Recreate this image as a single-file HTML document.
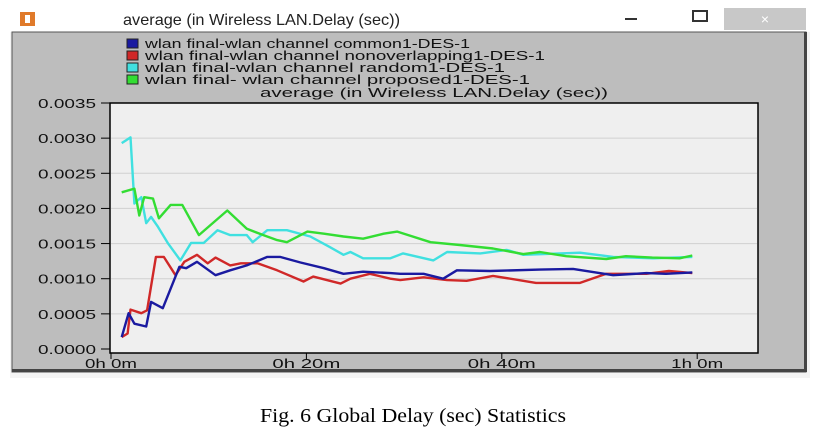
<!DOCTYPE html>
<html><head><meta charset="utf-8"><style>
html,body{margin:0;padding:0;background:#fff;width:819px;height:435px;overflow:hidden}
svg{display:block;font-family:"Liberation Sans",sans-serif}
</style></head><body>
<svg id="chart" width="819" height="435" viewBox="0 0 819 435">
<rect x="10" y="6" width="800" height="372" fill="#f4f4f4"/>
<rect x="10" y="6" width="800" height="26" fill="#ffffff"/>
<rect x="20" y="12" width="15" height="14" fill="#e07a2a"/>
<rect x="25" y="15" width="5" height="8" fill="#fff"/>
<text x="123" y="25" font-size="16" textLength="277" lengthAdjust="spacingAndGlyphs" fill="#222">average (in Wireless LAN.Delay (sec))</text>
<rect x="625" y="18" width="12" height="2" fill="#333"/>
<rect x="693" y="11" width="14" height="10" fill="none" stroke="#333" stroke-width="2"/>
<rect x="724" y="8" width="82" height="22" fill="#c8c8c8"/>
<text x="765" y="24" font-size="14" fill="#fff" text-anchor="middle">×</text>
<rect x="12" y="32" width="794" height="340" fill="#bdbdbd" stroke="#555" stroke-width="1"/>
<rect x="804" y="32" width="3" height="340" fill="#444"/>
<rect x="12" y="369" width="794" height="3" fill="#444"/>
<g id="legend" font-size="13" fill="#111"></g>
<text x="434" y="97" font-size="13" text-anchor="middle" textLength="348" lengthAdjust="spacingAndGlyphs" fill="#111">average (in Wireless LAN.Delay (sec))</text>
<rect x="110" y="103" width="648" height="250" fill="#efefef" stroke="#000" stroke-width="1.5"/>
<g id="grid"></g><g id="yaxis" font-size="13" fill="#111"></g><g id="xaxis" font-size="13" fill="#111"></g><g id="series"></g>
<text x="413" y="422" font-family="Liberation Serif,serif" font-size="20" text-anchor="middle" textLength="306" lengthAdjust="spacingAndGlyphs" fill="#000">Fig. 6 Global Delay (sec) Statistics</text>
</svg>
<script>
const yTicks=[0,0.0005,0.0010,0.0015,0.0020,0.0025,0.0030,0.0035];
const yTickLabels=["0.0000","0.0005","0.0010","0.0015","0.0020","0.0025","0.0030","0.0035"];
const xTicks=[0,20,40,60];
const xTickLabels=["0h 0m","0h 20m","0h 40m","1h 0m"];
const seriesNames=["wlan final-wlan channel common1-DES-1","wlan final-wlan channel nonoverlapping1-DES-1","wlan final-wlan channel random1-DES-1","wlan final- wlan channel proposed1-DES-1"];
const seriesColors=["#1a1aa0","#d02828","#40e0e0","#33dd33"];
const commonMin=[1.1,1.8,2.4,3.6,4.1,5.3,7.0,7.7,8.8,10.7,12.2,13.9,16.0,17.3,19.4,21.8,23.8,25.8,28.6,29.6,32.0,34.0,35.4,38.8,43.9,47.3,51.4,54.8,56.8,59.5];
const commonVal=[1.7,5.1,3.6,3.2,6.7,5.8,11.7,11.5,12.4,10.5,11.2,11.9,13.1,13.1,12.3,11.5,10.7,11.0,10.8,10.7,10.7,10.0,11.2,11.1,11.3,11.4,10.5,10.8,10.7,10.9];
const nonovMin=[1.1,1.7,2.0,3.1,3.7,4.6,5.4,6.6,7.5,8.8,9.9,10.7,12.2,13.3,15.0,17.0,19.7,20.7,23.5,24.5,26.5,28.6,29.6,32.0,34.4,36.4,39.1,43.5,48.0,50.7,54.8,57.1,59.5];
const nonovVal=[1.7,2.2,5.6,5.1,5.5,13.1,13.1,10.5,12.4,13.4,12.2,13.0,11.9,12.2,12.2,11.2,9.6,10.3,9.3,10.0,10.7,10.0,9.8,10.2,9.8,9.7,10.4,9.4,9.4,10.7,10.7,11.1,10.8];
const randomMin=[1.1,2.0,2.4,3.1,3.6,4.1,4.8,5.8,7.1,8.2,9.5,10.9,12.2,13.9,14.5,16.0,18.0,20.4,22.4,23.8,24.5,25.8,28.6,29.9,33.0,34.4,37.8,40.5,42.2,48.0,51.4,55.5,59.5];
const randomVal=[29.3,30.1,20.7,21.6,17.9,18.8,17.4,15.1,12.6,15.1,15.1,16.9,16.2,16.2,15.2,16.9,16.9,16.0,14.5,13.4,13.8,12.9,12.9,13.6,12.6,13.8,13.6,14.1,13.4,13.7,13.1,12.9,13.1];
const propMin=[1.1,2.4,2.9,3.4,4.3,4.9,6.1,7.3,9.0,11.9,13.9,15.6,17.0,18.0,20.1,21.8,23.8,25.8,27.9,29.3,32.7,35.7,39.1,42.2,43.9,46.6,50.7,52.7,55.4,58.2,59.5];
const propVal=[22.3,22.8,19.0,21.6,21.4,18.6,20.5,20.5,16.2,19.7,17.1,16.2,15.5,15.2,16.7,16.4,16.0,15.7,16.4,16.7,15.2,14.8,14.3,13.5,13.8,13.2,12.8,13.2,13.0,12.9,13.3];
const NS="http://www.w3.org/2000/svg";
function X(m){return 111+m*9.77;}
function Y(v){return 349-v/0.0035*246;}
function mk(t,a,p){const e=document.createElementNS(NS,t);for(const k in a)e.setAttribute(k,a[k]);p.appendChild(e);return e;}
const grid=document.getElementById('grid'),ya=document.getElementById('yaxis'),xa=document.getElementById('xaxis'),sg=document.getElementById('series'),lg=document.getElementById('legend');
yTicks.forEach((t,i)=>{
 if(i>0&&i<yTicks.length-1){const g=mk('line',{x1:111,x2:757,y1:Y(t),y2:Y(t),stroke:'#d0d0d0','stroke-width':1},grid);
 
 }
 mk('line',{x1:101,x2:110,y1:Y(t),y2:Y(t),stroke:'#000'},ya);
 const l=mk('text',{x:96,y:Y(t)+5,'text-anchor':'end',textLength:58,lengthAdjust:'spacingAndGlyphs'},ya);l.textContent=yTickLabels[i];
 
 
});
xTicks.forEach((t,i)=>{
 mk('line',{x1:X(t),x2:X(t),y1:353,y2:359,stroke:'#000'},xa);
 const w=xTickLabels[i].length>5?68:52;
 const l=mk('text',{x:X(t),y:368,'text-anchor':'middle',textLength:w,lengthAdjust:'spacingAndGlyphs'},xa);l.textContent=xTickLabels[i];
 
 
});
const allMin=[commonMin,nonovMin,randomMin,propMin],allVal=[commonVal,nonovVal,randomVal,propVal];
const order=[2,3,1,0];
order.forEach(s=>{
 const pts=allMin[s].map((m,i)=>X(m).toFixed(1)+','+Y(allVal[s][i]*1e-4).toFixed(1)).join(' ');
 const p=mk('polyline',{points:pts,fill:'none',stroke:seriesColors[s],'stroke-width':2.4,'stroke-linejoin':'round'},sg);
 
 
});
const legendW=[325,400,360,385];
seriesNames.forEach((n,i)=>{
 const y=48+i*12;
 mk('rect',{x:127,y:y-9,width:11,height:9,fill:seriesColors[i],stroke:'#222','stroke-width':1},lg);
 const t=mk('text',{x:145,y:y,textLength:legendW[i],lengthAdjust:'spacingAndGlyphs'},lg);t.textContent=n;
 
 
});
</script>
</body></html>
